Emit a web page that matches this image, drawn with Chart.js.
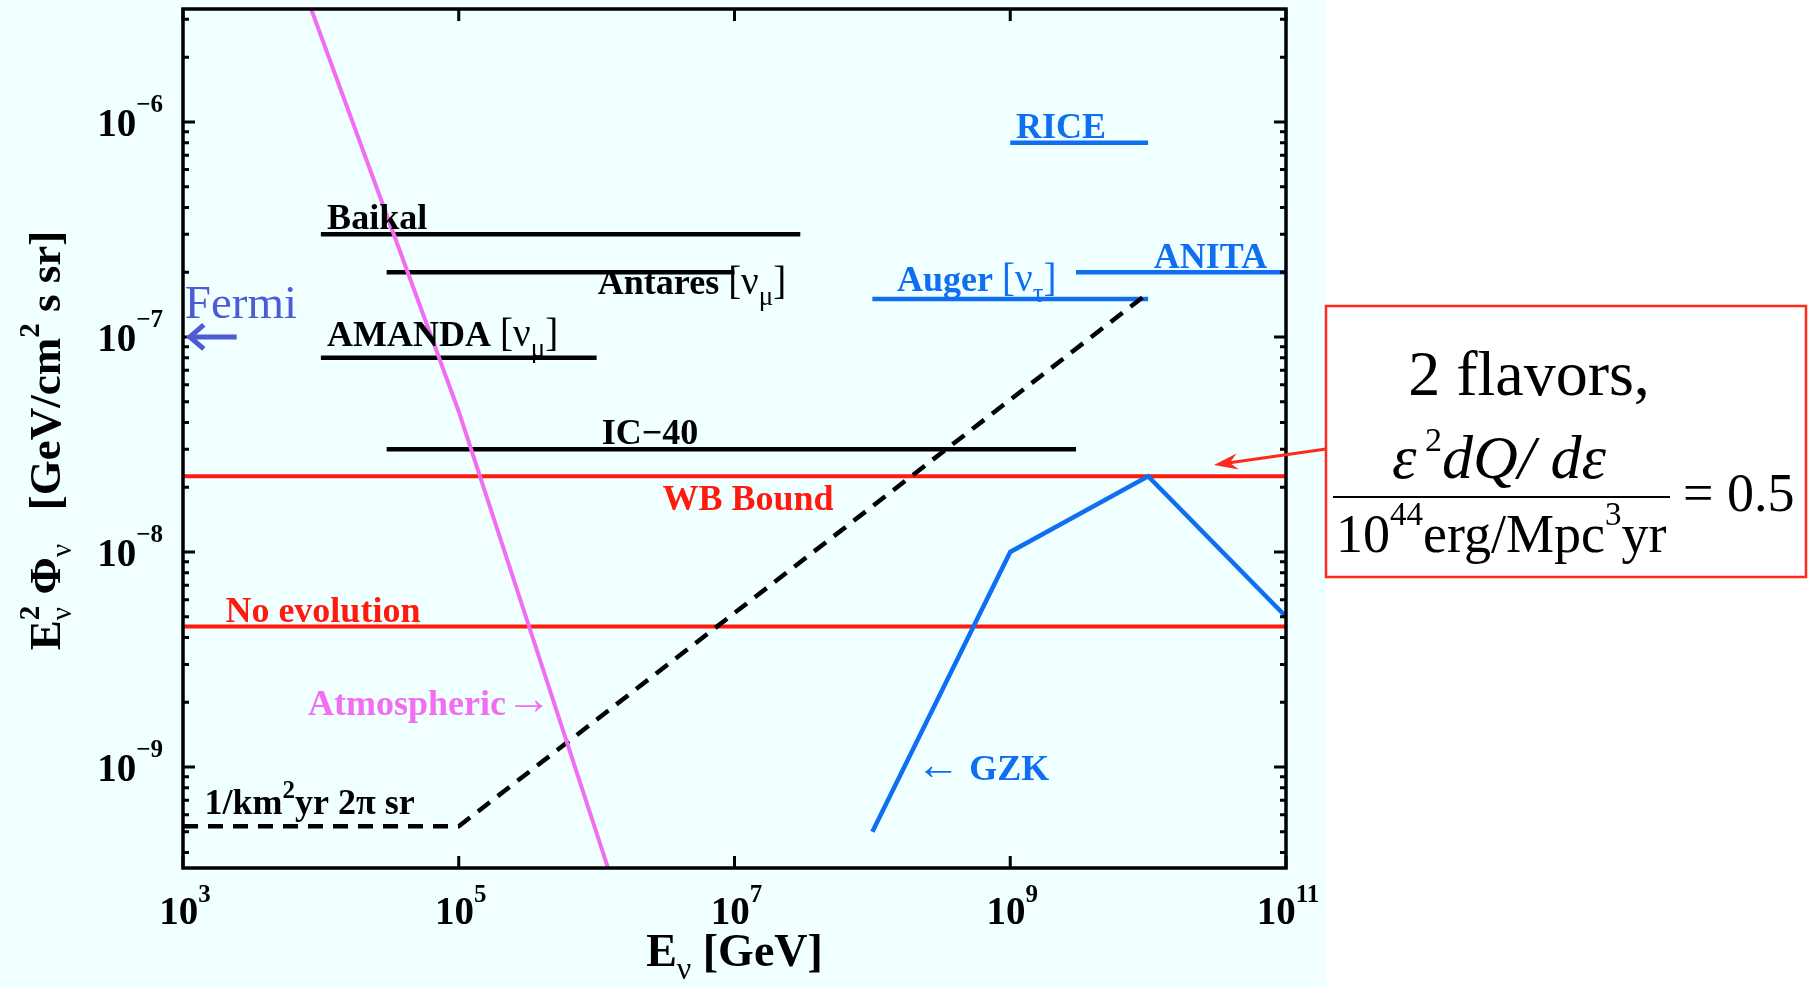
<!DOCTYPE html>
<html>
<head>
<meta charset="utf-8">
<title>Neutrino flux limits</title>
<script src="https://cdn.jsdelivr.net/npm/chart.js@4.4.1/dist/chart.umd.min.js"></script>
<style>
  html, body { margin: 0; padding: 0; background: #ffffff; }
  canvas { display: block; }
</style>
</head>
<body>
<canvas id="fluxChart" width="1813" height="988"></canvas>
<script>
// axis ranges: E [GeV] and E^2 Phi [GeV/cm^2 s sr]
const energyMin = 1e3;
const energyMax = 1e11;
const fluxMin = 3.39e-10;
const fluxMax = 3.35e-6;

const xTickExps = [3, 5, 7, 9, 11];
const yTickExps = [-9, -8, -7, -6];

// black experimental limits
const expNames = ['Baikal', 'Antares', 'AMANDA', 'IC-40'];
const expEmin = [1e4, 3e4, 1e4, 3e4];
const expEmax = [3e7, 1e7, 1e6, 3e9];
const expFlux = [3e-7, 2e-7, 8e-8, 3e-8];

// blue experimental limits
const radioNames = ['RICE', 'Auger', 'ANITA'];
const radioEmin = [1e9, 1e8, 3e9];
const radioEmax = [1e10, 1e10, 1e11];
const radioFlux = [8e-7, 1.5e-7, 2e-7];

// WB bound and no evolution
const boundEnergy = [1e3, 1e11];
const wbFlux = [2.25e-8, 2.25e-8];
const noEvoFlux = [4.5e-9, 4.5e-9];

// atmospheric background
const atmEnergy = [8.5e3, 1e5, 1.21e6];
const atmFlux = [3.35e-6, 4.5e-8, 3.39e-10];

// 1 event / km^2 yr 2pi sr
const kmEnergy = [1e3, 1e5, 1e10];
const kmFlux = [5.3e-10, 5.3e-10, 1.6e-7];

// GZK neutrinos
const gzkEnergy = [1e8, 1e9, 1e10, 1e11];
const gzkFlux = [5e-10, 1e-8, 2.25e-8, 5e-9];

const BLACK = '#000000';
const RED = '#ff1a0d';
const BLUE = '#0f6ff0';
const PINK = '#f26df2';
const FERMI = '#4d5cd6';
const BG = '#f0ffff';
const SERIF = '"Liberation Serif", "Times New Roman", serif';

function seg(xs, ys) {
  return xs.map((x, i) => ({ x: x, y: ys[i] }));
}

// rich text pieces
const LS = 36;
const B = t => ({ t: t, size: LS, bold: true });
const T = t => ({ t: t, size: 39, bold: false });
const SUB = t => ({ t: t, size: 27, bold: false, dy: 11 });
const SUPB = t => ({ t: t, size: 25, bold: true, dy: -16 });

// text labels anchored at (energy, flux) = left end of baseline
const labelDefs = [
  { parts: [B('Baikal')], e: 1.11e4, f: 3.18e-7, color: BLACK },
  { parts: [B('Antares '), T('[ν'), SUB('μ'), T(']')], e: 1.02e6, f: 1.585e-7, color: BLACK },
  { parts: [B('AMANDA '), T('[ν'), SUB('μ'), T(']')], e: 1.11e4, f: 9.08e-8, color: BLACK },
  { parts: [B('IC−40')], e: 1.09e6, f: 3.18e-8, color: BLACK },
  { parts: [B('WB Bound')], e: 3.0e6, f: 1.57e-8, color: RED },
  { parts: [B('No evolution')], e: 2.03e3, f: 4.7e-9, color: RED },
  { parts: [B('Atmospheric'), { t: '→', size: 46, bold: false, dy: -1 }], e: 8.07e3, f: 1.75e-9, color: PINK },
  { parts: [B('1/km'), SUPB('2'), B('yr 2π sr')], e: 1.43e3, f: 6.04e-10, color: BLACK },
  { parts: [B('RICE')], e: 1.1e9, f: 8.46e-7, color: BLUE },
  { parts: [B('Auger '), T('[ν'), SUB('τ'), T(']')], e: 1.51e8, f: 1.64e-7, color: BLUE },
  { parts: [B('ANITA')], e: 1.1e10, f: 2.09e-7, color: BLUE },
  { parts: [{ t: '←', size: 44, bold: false, dy: -1 }, B(' GZK')], e: 2.08e8, f: 8.7e-10, color: BLUE },
  { parts: [{ t: 'Fermi', size: 47, bold: false }], e: 1.03e3, f: 1.226e-7, color: FERMI }
];

function fontOf(p) {
  return (p.italic ? 'italic ' : '') + (p.bold ? 'bold ' : '') + p.size + 'px ' + SERIF;
}

function layoutRich(ctx, parts) {
  let cursor = 0, prevStart = 0;
  const out = [];
  parts.forEach(p => {
    ctx.font = fontOf(p);
    const w = ctx.measureText(p.t).width;
    const start = p.sameX ? prevStart : cursor;
    out.push({ p: p, x: start });
    cursor = Math.max(cursor, start + w);
    prevStart = start;
  });
  return { items: out, width: cursor };
}

function drawRich(ctx, parts, x, y, align) {
  const lay = layoutRich(ctx, parts);
  let x0 = x;
  if (align === 'center') x0 = x - lay.width / 2;
  if (align === 'right') x0 = x - lay.width;
  ctx.textBaseline = 'alphabetic';
  ctx.textAlign = 'left';
  lay.items.forEach(it => {
    ctx.font = fontOf(it.p);
    ctx.fillText(it.p.t, x0 + it.x, y + (it.p.dy || 0));
  });
}

const backgroundPlugin = {
  id: 'backgroundPlugin',
  beforeDraw(chart) {
    const ctx = chart.ctx;
    ctx.save();
    ctx.fillStyle = '#ffffff';
    ctx.fillRect(0, 0, chart.width, chart.height);
    ctx.fillStyle = BG;
    ctx.fillRect(0, 0, 1326, chart.height);
    ctx.restore();
  }
};

const framePlugin = {
  id: 'framePlugin',
  afterDatasetsDraw(chart) {
    const ctx = chart.ctx;
    const a = chart.chartArea;
    const xs = chart.scales.x;
    const ys = chart.scales.y;
    ctx.save();
    ctx.strokeStyle = BLACK;
    ctx.fillStyle = BLACK;

    // inward ticks
    ctx.lineWidth = 3;
    xTickExps.forEach(k => {
      const px = xs.getPixelForValue(Math.pow(10, k));
      ctx.beginPath();
      ctx.moveTo(px, a.bottom); ctx.lineTo(px, a.bottom - 12);
      ctx.moveTo(px, a.top); ctx.lineTo(px, a.top + 12);
      ctx.stroke();
    });
    for (let d = -10; d <= -6; d++) {
      for (let m = 1; m <= 9; m++) {
        const v = m * Math.pow(10, d);
        if (v < fluxMin || v > fluxMax) continue;
        const py = ys.getPixelForValue(v);
        const len = m === 1 ? 12 : 6;
        ctx.beginPath();
        ctx.moveTo(a.left, py); ctx.lineTo(a.left + len, py);
        ctx.moveTo(a.right, py); ctx.lineTo(a.right - len, py);
        ctx.stroke();
      }
    }

    // frame
    ctx.lineWidth = 3.5;
    ctx.strokeRect(a.left, a.top, a.right - a.left, a.bottom - a.top);

    // tick labels
    xTickExps.forEach(k => {
      const px = xs.getPixelForValue(Math.pow(10, k));
      drawRich(ctx, [{ t: '10', size: 39, bold: true }, { t: String(k), size: 25, bold: true, dy: -22 }],
        px + 2, a.bottom + 56, 'center');
    });
    yTickExps.forEach(k => {
      const py = ys.getPixelForValue(Math.pow(10, k));
      drawRich(ctx, [{ t: '10', size: 39, bold: true }, { t: '−' + Math.abs(k), size: 25, bold: true, dy: -24 }],
        a.left - 20, py + 14, 'right');
    });

    // axis titles
    drawRich(ctx, [
      { t: 'E', size: 46, bold: true },
      { t: 'ν', size: 32, bold: false, dy: 13 },
      { t: ' [GeV]', size: 46, bold: true }
    ], (a.left + a.right) / 2, 966, 'center');

    ctx.save();
    ctx.translate(60, (a.top + a.bottom) / 2 + 2);
    ctx.rotate(-Math.PI / 2);
    drawRich(ctx, [
      { t: 'E', size: 45, bold: true },
      { t: '2', size: 29, bold: true, dy: -21 },
      { t: 'ν', size: 29, bold: false, dy: 11, sameX: true },
      { t: ' Φ', size: 45, bold: true },
      { t: 'ν', size: 29, bold: false, dy: 11 },
      { t: '   [GeV/cm', size: 45, bold: true },
      { t: '2', size: 29, bold: true, dy: -21 },
      { t: ' s sr]', size: 45, bold: true }
    ], 0, 0, 'center');
    ctx.restore();

    // labels
    labelDefs.forEach(l => {
      ctx.fillStyle = l.color;
      drawRich(ctx, l.parts, xs.getPixelForValue(l.e), ys.getPixelForValue(l.f), 'left');
    });

    // Fermi arrow
    const fy = ys.getPixelForValue(1e-7);
    const fTip = xs.getPixelForValue(1.12e3);
    const fTail = xs.getPixelForValue(2.45e3);
    ctx.strokeStyle = FERMI;
    ctx.lineWidth = 5;
    ctx.lineCap = 'butt';
    ctx.beginPath();
    ctx.moveTo(fTail, fy); ctx.lineTo(fTip + 2, fy);
    ctx.moveTo(fTip + 14, fy - 12); ctx.lineTo(fTip, fy); ctx.lineTo(fTip + 14, fy + 12);
    ctx.stroke();

    // annotation box
    const bx = 1326, by = 306, bw = 480, bh = 271;
    ctx.fillStyle = '#ffffff';
    ctx.fillRect(bx, by, bw, bh);
    ctx.strokeStyle = '#ff2a1a';
    ctx.lineWidth = 2.5;
    ctx.strokeRect(bx, by, bw, bh);

    ctx.fillStyle = BLACK;
    drawRich(ctx, [{ t: '2 flavors,', size: 64 }], 1529, 395, 'center');
    drawRich(ctx, [
      { t: 'ε', size: 62, italic: true },
      { t: ' 2', size: 34, dy: -27 },
      { t: 'dQ/ dε', size: 62, italic: true }
    ], 1499, 478, 'center');
    ctx.strokeStyle = BLACK;
    ctx.lineWidth = 2;
    ctx.beginPath();
    ctx.moveTo(1333, 497); ctx.lineTo(1670, 497);
    ctx.stroke();
    drawRich(ctx, [
      { t: '10', size: 54 },
      { t: '44', size: 33, dy: -27 },
      { t: 'erg/Mpc', size: 54 },
      { t: '3', size: 33, dy: -27 },
      { t: 'yr', size: 54 }
    ], 1336, 552, 'left');
    drawRich(ctx, [{ t: '= 0.5', size: 54 }], 1683, 511, 'left');

    // arrow from box to WB bound
    const tipX = xs.getPixelForValue(3e10);
    const tipY = ys.getPixelForValue(2.54e-8);
    const tailX = bx, tailY = 449;
    const ang = Math.atan2(tailY - tipY, tailX - tipX);
    ctx.strokeStyle = '#ff2a1a';
    ctx.fillStyle = '#ff2a1a';
    ctx.lineWidth = 3;
    ctx.beginPath();
    ctx.moveTo(tailX, tailY);
    ctx.lineTo(tipX + 16 * Math.cos(ang), tipY + 16 * Math.sin(ang));
    ctx.stroke();
    ctx.beginPath();
    ctx.moveTo(tipX, tipY);
    ctx.lineTo(tipX + 24 * Math.cos(ang) - 8 * Math.sin(ang), tipY + 24 * Math.sin(ang) + 8 * Math.cos(ang));
    ctx.lineTo(tipX + 16 * Math.cos(ang), tipY + 16 * Math.sin(ang));
    ctx.lineTo(tipX + 24 * Math.cos(ang) + 8 * Math.sin(ang), tipY + 24 * Math.sin(ang) - 8 * Math.cos(ang));
    ctx.closePath();
    ctx.fill();

    ctx.restore();
  }
};

const datasets = [
  { label: 'Atmospheric', data: seg(atmEnergy, atmFlux), borderColor: PINK, borderWidth: 4 },
  { label: 'GZK', data: seg(gzkEnergy, gzkFlux), borderColor: BLUE, borderWidth: 4.5 },
  { label: '1/km2 yr 2pi sr', data: seg(kmEnergy, kmFlux), borderColor: BLACK, borderWidth: 4.5, borderDash: [15, 10] },
  { label: 'WB Bound', data: seg(boundEnergy, wbFlux), borderColor: RED, borderWidth: 4 },
  { label: 'No evolution', data: seg(boundEnergy, noEvoFlux), borderColor: RED, borderWidth: 4 }
];
expNames.forEach((n, i) => {
  datasets.push({ label: n, data: seg([expEmin[i], expEmax[i]], [expFlux[i], expFlux[i]]), borderColor: BLACK, borderWidth: 4.5 });
});
radioNames.forEach((n, i) => {
  datasets.push({ label: n, data: seg([radioEmin[i], radioEmax[i]], [radioFlux[i], radioFlux[i]]), borderColor: BLUE, borderWidth: 4.5 });
});
datasets.forEach(d => {
  d.pointRadius = 0;
  d.fill = false;
  d.tension = 0;
  d.borderCapStyle = 'butt';
});

new Chart(document.getElementById('fluxChart'), {
  type: 'line',
  data: { datasets: datasets },
  options: {
    responsive: false,
    animation: false,
    devicePixelRatio: 1,
    layout: { padding: { left: 183, top: 9, right: 1813 - 1286, bottom: 988 - 868 } },
    plugins: { legend: { display: false }, tooltip: { enabled: false } },
    scales: {
      x: { type: 'logarithmic', min: energyMin, max: energyMax, display: false },
      y: { type: 'logarithmic', min: fluxMin, max: fluxMax, display: false }
    }
  },
  plugins: [backgroundPlugin, framePlugin]
});
</script>
</body>
</html>
